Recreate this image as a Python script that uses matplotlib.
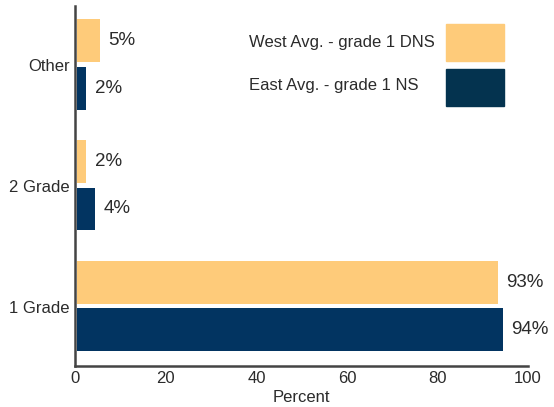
import matplotlib
matplotlib.use("Agg")
import matplotlib.pyplot as plt
from matplotlib.patches import Rectangle
import numpy as np

categories = ["1 Grade", "2 Grade", "Other"]
west_vals = [93, 2, 5]
east_vals = [94, 4, 2]
west_label = "West Avg. - grade 1 DNS"
east_label = "East Avg. - grade 1 NS"

WEST_COLOR = "#FECB7A"
EAST_COLOR = "#023461"
EAST_LEG_COLOR = "#04334F"
TEXT_COLOR = "#2b2b2b"

plt.rcParams["font.family"] = ["Liberation Sans Narrow", "Liberation Sans", "DejaVu Sans"]

fig = plt.figure(figsize=(5.54, 4.07), dpi=100)
ax = fig.add_axes([0.136, 0.101, 0.817, 0.884])

y = np.arange(len(categories))
h = 0.355
gap = 0.025
bw = ax.barh(y + h / 2 + gap, west_vals, height=h, color=WEST_COLOR, left=0.4)
be = ax.barh(y - h / 2 - gap / 2, east_vals, height=h, color=EAST_COLOR, left=0.4)

for bars, vals in ((bw, west_vals), (be, east_vals)):
    for b, v in zip(bars, vals):
        ax.annotate(f"{v}%", (b.get_x() + b.get_width(), b.get_y() + b.get_height() / 2),
                    xytext=(6, 0), textcoords="offset points", va="center", ha="left",
                    fontsize=13.5, color=TEXT_COLOR)

ax.set_xlim(0, 100)
ax.set_ylim(-0.49, 2.49)
ax.set_yticks(y)
ax.set_yticklabels(categories)
ax.set_xticks([0, 20, 40, 60, 80, 100])
ax.tick_params(length=0, labelsize=12, colors=TEXT_COLOR, pad=4)
ax.set_xlabel("Percent", fontsize=12, color=TEXT_COLOR, labelpad=2.5)

for s in ("top", "right"):
    ax.spines[s].set_visible(False)
for s in ("left", "bottom"):
    ax.spines[s].set_color("#444444")
    ax.spines[s].set_linewidth(1.8)

# hand-made legend: text on the left, big colour block on the right
legend_items = [(west_label, WEST_COLOR, 0.847, 0.899), (east_label, EAST_LEG_COLOR, 0.722, 0.778)]
for label, color, y0, ty in legend_items:
    ax.add_patch(Rectangle((0.82, y0), 0.126, 0.103, transform=ax.transAxes,
                           color=color, clip_on=False))
    ax.text(0.383, ty, label, transform=ax.transAxes, ha="left", va="center",
            fontsize=12, color=TEXT_COLOR)

fig.savefig("out.png", dpi=100)
